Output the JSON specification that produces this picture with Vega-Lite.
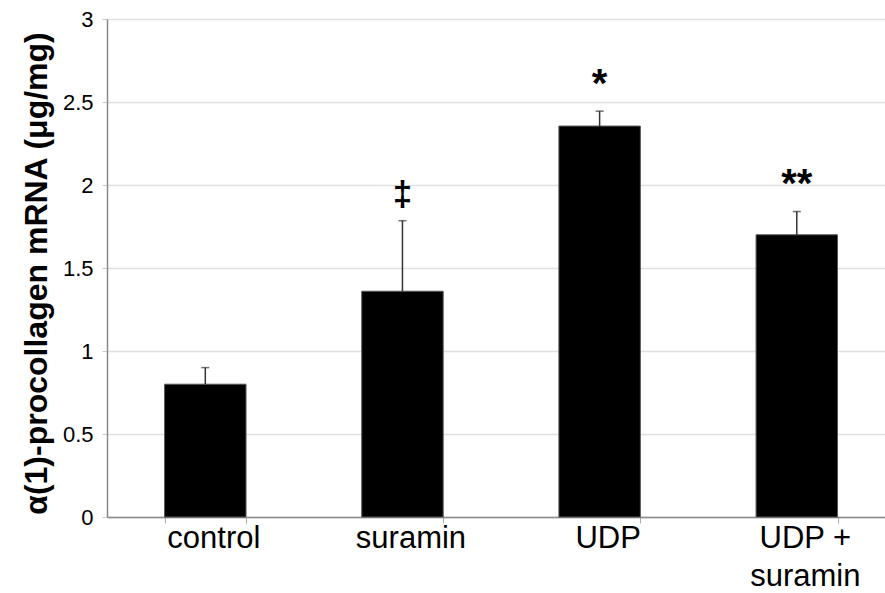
{
  "$schema": "https://vega.github.io/schema/vega-lite/v6.json",
  "autosize": {"type": "none"},
  "padding": {"left": 107, "top": 19, "right": 0, "bottom": 76},
  "width": 778,
  "height": 498,
  "background": "white",
  "config": {"view": {"stroke": null}, "font": "Liberation Sans"},
  "data": {
    "values": [
      {"group": "control", "value": 0.80, "hi": 0.90, "mark": ""},
      {"group": "suramin", "value": 1.36, "hi": 1.785, "mark": "‡"},
      {"group": "UDP", "value": 2.355, "hi": 2.445, "mark": "*"},
      {"group": "UDP + suramin", "value": 1.70, "hi": 1.84, "mark": "**"}
    ]
  },
  "encoding": {
    "x": {
      "field": "group",
      "type": "nominal",
      "sort": null,
      "scale": {"paddingInner": 0.587, "paddingOuter": 0.2665, "align": 0.548},
      "axis": {
        "title": null,
        "labelAngle": 0,
        "labelFontSize": 31,
        "labelColor": "black",
        "labelPadding": 0,
        "labelOffset": 8,
        "labelLineHeight": 38,
        "labelExpr": "datum.value == 'UDP + suramin' ? ['UDP +', 'suramin'] : datum.value",
        "domainColor": "#888",
        "domainWidth": 1.5,
        "tickColor": "#aaa",
        "tickSize": 6,
        "tickBand": "extent",
        "grid": false
      }
    }
  },
  "layer": [
    {
      "mark": {"type": "bar", "color": "black", "stroke": "#555", "strokeWidth": 1},
      "encoding": {
        "y": {
          "field": "value",
          "type": "quantitative",
          "scale": {"domain": [0, 3], "nice": false},
          "axis": {
            "values": [0, 0.5, 1, 1.5, 2, 2.5, 3],
            "format": "~g",
            "title": "α(1)-procollagen mRNA (μg/mg)",
            "titleFontSize": 32,
            "titleFontWeight": "bold",
            "titleColor": "black",
            "titlePadding": 9,
            "titleY": 254,
            "labelFontSize": 22,
            "labelColor": "black",
            "labelPadding": 9,
            "tickSize": 5,
            "tickColor": "#ccc",
            "domainColor": "#888",
            "domainWidth": 1.5,
            "gridColor": "#e0e0e0",
            "gridWidth": 1.5
          }
        }
      }
    },
    {
      "mark": {"type": "rule", "color": "#333", "strokeWidth": 1.5},
      "encoding": {
        "y": {"field": "value", "type": "quantitative"},
        "y2": {"field": "hi"}
      }
    },
    {
      "mark": {"type": "tick", "color": "#333", "thickness": 1.5, "size": 8},
      "encoding": {
        "y": {"field": "hi", "type": "quantitative"}
      }
    },
    {
      "transform": [{"filter": "datum.mark == '*' || datum.mark == '**'"}],
      "mark": {"type": "text", "fontSize": 40, "fontWeight": "bold", "color": "black", "baseline": "alphabetic", "dy": -14.5},
      "encoding": {
        "y": {"field": "hi", "type": "quantitative"},
        "text": {"field": "mark"}
      }
    },
    {
      "transform": [{"filter": "datum.mark == '‡'"}],
      "mark": {"type": "text", "fontSize": 35, "fontWeight": "bold", "color": "black", "baseline": "alphabetic", "dy": -15},
      "encoding": {
        "y": {"field": "hi", "type": "quantitative"},
        "text": {"field": "mark"}
      }
    }
  ]
}
